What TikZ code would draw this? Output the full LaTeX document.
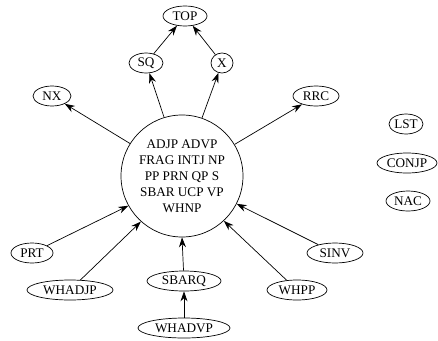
\documentclass[tikz,border=0pt]{standalone}
\usepackage{fontspec}
\setmainfont{Liberation Serif}
\usetikzlibrary{shapes.geometric,arrows.meta}
\begin{document}
\begin{tikzpicture}[x=1pt,y=-1pt,
  lab/.style={draw,ellipse,line width=0.7pt,inner sep=0pt,minimum height=20pt,font=\fontsize{13.2}{16}\selectfont},
  edge/.style={line width=0.7pt,-{Stealth[length=10pt,width=7pt]}}]
\useasboundingbox (0,0) rectangle (438,340);
\node[draw,circle,line width=0.7pt,minimum size=122pt,inner sep=0pt,align=center,
  font=\fontsize{13.2}{16}\selectfont] (c) at (182,176)
  {ADJP ADVP\\FRAG INTJ NP\\PP PRN QP S\\SBAR UCP VP\\WHNP};
\node[lab,minimum width=44pt] (top) at (185,16) {TOP};
\node[lab,minimum width=34pt] (sq) at (146,63) {SQ};
\node[lab,minimum width=22pt] (x) at (222,63) {X};
\node[lab,minimum width=38pt] (nx) at (52,96) {NX};
\node[lab,minimum width=46pt] (rrc) at (316,96) {RRC};
\node[lab,minimum width=34pt] (lst) at (406,124) {LST};
\node[lab,minimum width=60pt] (conjp) at (407,163) {CONJP};
\node[lab,minimum width=44pt] (nac) at (408,201) {NAC};
\node[lab,minimum width=42pt] (prt) at (32,253) {PRT};
\node[lab,minimum width=86pt] (whadjp) at (70,290) {WHADJP};
\node[lab,minimum width=74pt] (sbarq) at (184,281) {SBARQ};
\node[lab,minimum width=92pt] (whadvp) at (184,328) {WHADVP};
\node[lab,minimum width=60pt] (whpp) at (297,290) {WHPP};
\node[lab,minimum width=56pt] (sinv) at (335,253) {SINV};
\draw[edge] (sq) -- (top);
\draw[edge] (x) -- (top);
\draw[edge] (c.107) -- (sq);
\draw[edge] (c.71) -- (x);
\draw[edge] (c.148) -- (nx);
\draw[edge] (c.31) -- (rrc);
\draw[edge] (prt) -- (c.209);
\draw[edge] (whadjp) -- (c.228);
\draw[edge] (sbarq) -- (c.270);
\draw[edge] (whadvp) -- (sbarq);
\draw[edge] (whpp) -- (c.313);
\draw[edge] (sinv) -- (c.333);
\end{tikzpicture}
\end{document}
